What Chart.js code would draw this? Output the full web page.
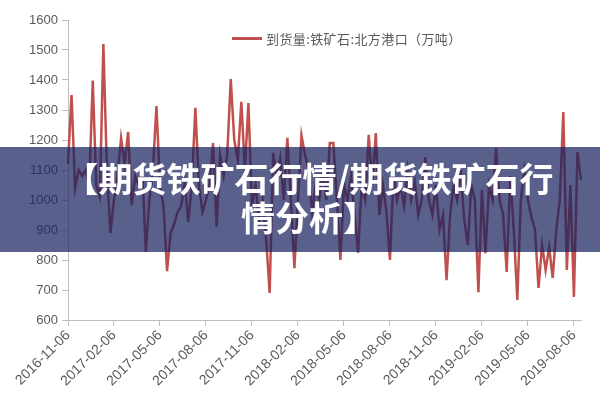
<!DOCTYPE html>
<html>
<head>
<meta charset="utf-8">
<script src="https://cdn.jsdelivr.net/npm/chart.js@4"></script>
<style>
  html, body { margin: 0; padding: 0; background: #fff; }
  #wrap { position: relative; width: 600px; height: 400px; }
  #legend {
    position: absolute; left: 232px; top: 29px;
    font: 13px "Noto Sans CJK SC", sans-serif; color: #595959;
    letter-spacing: 0.4px;
    display: flex; align-items: center; white-space: nowrap;
  }
  #legend .swatch { width: 30px; height: 3px; background: #c0504d; margin-right: 4px; }
  #banner {
    position: absolute; left: 0; top: 147px; width: 600px; height: 105px;
    background: rgba(25, 35, 95, 0.72);
    color: #fff; font: bold 34px "Noto Sans CJK SC", sans-serif;
    text-align: center; line-height: 39px; box-sizing: border-box;
    padding: 11px 0 0 18px; white-space: nowrap;
  }
</style>
</head>
<body>
<div id="wrap">
  <canvas id="chart" width="600" height="400"></canvas>
  <div id="legend"><span class="swatch"></span>到货量:铁矿石:北方港口（万吨）</div>
  <div id="banner">【期货铁矿石行情/期货铁矿石行<br>情分析】</div>
</div>
<script>
// weekly arrivals, first week 2016-11-06
const arrivals = [
  1120, 1350, 1040, 1100, 1080, 1100, 1050, 1398, 1045, 1010,
  1520, 1100, 890, 1000, 1080, 1207, 1120, 1227, 983, 1080,
  1050, 1100, 827, 1000, 1100, 1313, 1050, 980, 763, 890,
  920, 960, 980, 1060, 927, 1050, 1307, 1050, 960, 1000,
  1050, 1190, 910, 1150, 1080, 1150, 1403, 1200, 1133, 1327,
  1100, 1323, 977, 1050, 930, 1000, 870, 690, 1157, 1080,
  1140, 1000, 1207, 1000, 773, 1000, 1215, 1150, 1100, 960,
  1050, 1000, 1100, 1000, 1190, 1190, 1000, 800, 1050, 1000,
  1080, 950, 824, 1050, 1000, 1217, 1050, 1223, 950, 1050,
  960, 800, 1080, 1000, 1050, 980, 1100, 1000, 1060, 950,
  1000, 1143, 1000, 950, 1050, 900, 950, 733, 950, 1050,
  1000, 1100, 933, 850, 1050, 1000, 693, 1033, 823, 1050,
  1000, 1173, 1000, 950, 760, 1080, 900, 667, 1000, 1100,
  1000, 943, 900, 707, 850, 767, 843, 740, 900, 1000,
  1293, 767, 1050, 677, 1160, 1067
]

const tickLabels = [
  "2016-11-06", "2017-02-06", "2017-05-06", "2017-08-06",
  "2017-11-06", "2018-02-06", "2018-05-06", "2018-08-06",
  "2018-11-06", "2019-02-06", "2019-05-06", "2019-08-06"
]
const weeksPerTick = 13

const weeks = arrivals.map((_, i) => i)
const axisGray = "#bfbfbf"
const textGray = "#595959"

new Chart(document.getElementById("chart"), {
  type: "line",
  data: {
    labels: weeks,
    datasets: [
      {
        label: "到货量:铁矿石:北方港口（万吨）",
        data: arrivals,
        borderColor: "#c0504d",
        borderWidth: 2.5,
        pointRadius: 0,
        tension: 0
      }
    ]
  },
  options: {
    responsive: false,
    animation: false,
    layout: { padding: { top: 20, right: 19, left: 0, bottom: 0 } },
    plugins: { legend: { display: false }, tooltip: { enabled: false } },
    scales: {
      x: {
        offset: false,
        border: { color: axisGray, width: 1 },
        grid: { drawOnChartArea: false, tickLength: 6, color: axisGray },
        ticks: {
          autoSkip: false,
          minRotation: 45,
          maxRotation: 45,
          padding: 1,
          color: textGray,
          font: { family: "Liberation Sans", size: 14 },
          callback: (value, index) =>
            index % weeksPerTick === 0 ? tickLabels[index / weeksPerTick] : null
        },
        afterFit: scale => { scale.height = 80 }
      },
      y: {
        min: 600,
        max: 1600,
        border: { color: axisGray, width: 1 },
        grid: { drawOnChartArea: false, tickLength: 6, color: axisGray },
        ticks: {
          stepSize: 100,
          padding: 4,
          color: textGray,
          font: { family: "Liberation Sans", size: 13 },
          callback: value => String(value)
        },
        afterFit: scale => { scale.width = 68 }
      }
    }
  }
})
</script>
</body>
</html>
